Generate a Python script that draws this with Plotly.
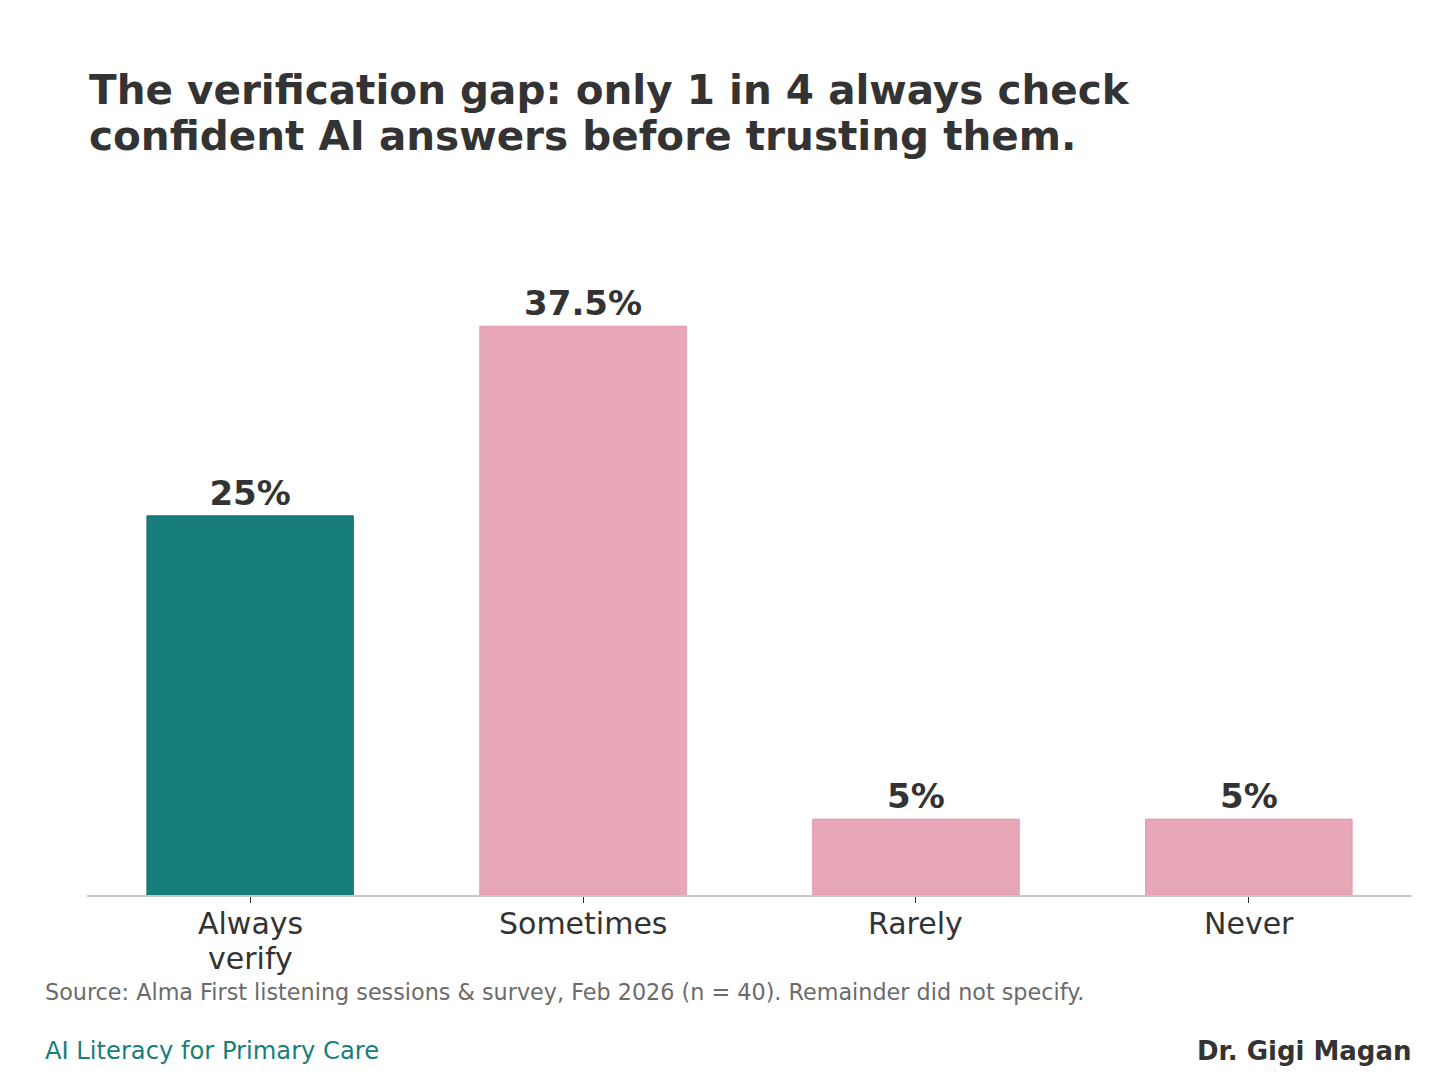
import plotly.graph_objects as go

# Survey answers
categories = ["Always\nverify", "Sometimes", "Rarely", "Never"]
shares = [25, 37.5, 5, 5]
bar_colors = ["#177e7b", "#e8a7b6", "#e8a7b6", "#e8a7b6"]
edge_colors = ["#11706d", "#e095a6", "#e095a6", "#e095a6"]

title_lines = ["The verification gap: only 1 in 4 always check",
               "confident AI answers before trusting them."]
source_text = ("Source: Alma First listening sessions & survey, Feb 2026 (n = 40). "
               "Remainder did not specify.")
brand_text = "AI Literacy for Primary Care"
author_text = "Dr. Gigi Magan"

W, H = 1456, 1092
PAGE = 8  # browser body margin pushes the figure 8px right/down
# plot box as seen in the window
box_l, box_r, box_t, box_b = 87, 1412, 258, 895
L = box_l - PAGE
R = W - (box_r - PAGE)
T = box_t - PAGE
B = H - (box_b - PAGE)
plot_w = W - L - R
plot_h = H - T - B

def px_x(x):
    return (x - box_l) / plot_w

def px_y(y):
    return (box_b - y) / plot_h

xs = list(range(len(categories)))

fig = go.Figure(go.Bar(
    x=xs,
    y=shares,
    width=0.62,
    marker=dict(color=bar_colors, line=dict(color=edge_colors, width=1)),
    texttemplate="%{y}%",
    textposition="outside",
    textfont=dict(family="DejaVu Sans", size=34, color="#333333", weight="bold"),
    cliponaxis=False,
))

annotations = []
for i, line in enumerate(title_lines):
    annotations.append(dict(
        text=line, xref="paper", yref="paper", x=0, y=px_y(90 + 46 * i),
        xanchor="left", yanchor="middle", showarrow=False,
        font=dict(size=40.5, color="#333333", weight="bold")))

# category labels, one annotation per line so the line spacing stays tight
for x, cat in zip(xs, categories):
    for j, part in enumerate(cat.split("\n")):
        annotations.append(dict(
            text=part, xref="x", yref="paper", x=x, y=px_y(923 + 35 * j),
            xanchor="center", yanchor="middle", showarrow=False,
            font=dict(size=30, color="#333333")))

annotations += [
    dict(text=source_text, xref="paper", yref="paper", x=px_x(43), y=px_y(992),
         xanchor="left", yanchor="middle", showarrow=False,
         font=dict(size=22.3, color="#6b6b6b")),
    dict(text=brand_text, xref="paper", yref="paper", x=px_x(43), y=px_y(1051),
         xanchor="left", yanchor="middle", showarrow=False,
         font=dict(size=24.2, color="#177e7b")),
    dict(text=author_text, xref="paper", yref="paper", x=px_x(1414), y=px_y(1051),
         xanchor="right", yanchor="middle", showarrow=False,
         font=dict(size=26, color="#333333", weight="bold")),
]

fig.update_layout(
    width=W, height=H,
    margin=dict(l=L, r=R, t=T, b=B),
    paper_bgcolor="white",
    plot_bgcolor="white",
    showlegend=False,
    font=dict(family="DejaVu Sans", color="#333333"),
    xaxis=dict(
        tickvals=xs,
        ticktext=["" for _ in xs],
        range=[-0.49, 3.49],
        showgrid=False, zeroline=False,
        showline=True, linecolor="#c8c8c8", linewidth=1.5,
        ticks="outside", ticklen=6, tickcolor="#333333", tickwidth=1.2,
    ),
    yaxis=dict(range=[0, 42], visible=False),
    annotations=annotations,
)

fig.write_html("out.html")
